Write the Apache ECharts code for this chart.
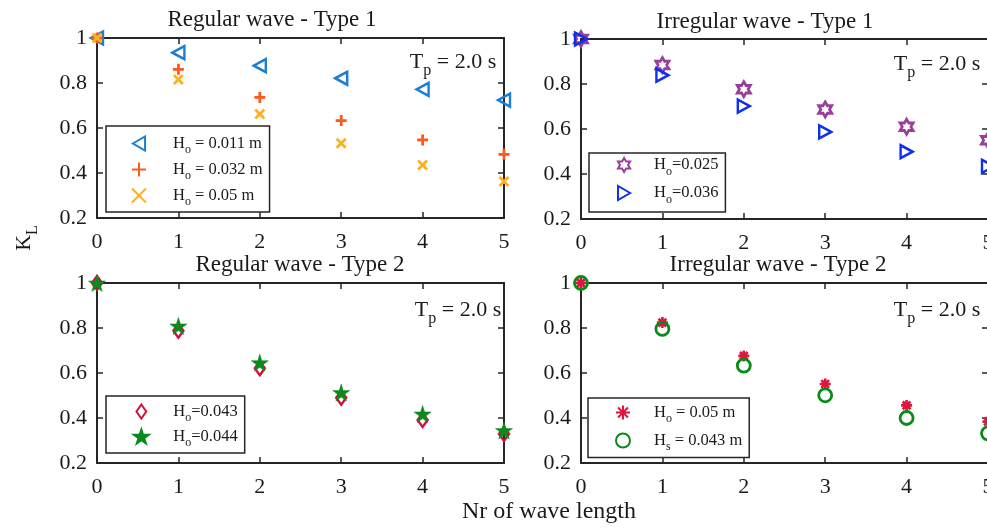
<!DOCTYPE html>
<html><head><meta charset="utf-8">
<script src="https://cdn.jsdelivr.net/npm/echarts@6/dist/echarts.min.js"></script>
<style>html,body{margin:0;padding:0;background:#fff}#c{width:987px;height:528px}</style>
</head><body><div id="c"></div>
<script>
// ---- data ----
const xTicks = [0, 1, 2, 3, 4, 5];
const yTickValues = [0.2, 0.4, 0.6, 0.8, 1];
const panelTitles = ['Regular wave - Type 1', 'Irregular wave - Type 1', 'Regular wave - Type 2', 'Irregular wave - Type 2'];
// Regular wave - Type 1
const reg1_H011 = [1.0, 0.935, 0.877, 0.821, 0.772, 0.724];
const reg1_H032 = [1.0, 0.861, 0.736, 0.633, 0.547, 0.483];
const reg1_H050 = [1.0, 0.816, 0.662, 0.532, 0.436, 0.362];
// Irregular wave - Type 1
const irr1_H025 = [1.0, 0.884, 0.777, 0.687, 0.610, 0.550];
const irr1_H036 = [1.0, 0.839, 0.702, 0.587, 0.499, 0.434];
// Regular wave - Type 2
const reg2_H043 = [1.0, 0.788, 0.621, 0.490, 0.391, 0.329];
const reg2_H044 = [1.0, 0.809, 0.646, 0.513, 0.418, 0.344];
// Irregular wave - Type 2
const irr2_H050 = [1.0, 0.824, 0.676, 0.551, 0.456, 0.384];
const irr2_Hs043 = [1.0, 0.796, 0.633, 0.501, 0.400, 0.332];

const legendLabels = {
  r1a: '{n|H}{s|o}{n| = 0.011 m}',
  r1b: '{n|H}{s|o}{n| = 0.032 m}',
  r1c: '{n|H}{s|o}{n| = 0.05 m}',
  i1a: '{n|H}{s|o}{n|=0.025}',
  i1b: '{n|H}{s|o}{n|=0.036}',
  r2a: '{n|H}{s|o}{n|=0.043}',
  r2b: '{n|H}{s|o}{n|=0.044}',
  i2a: '{n|H}{s|o}{n| = 0.05 m}',
  i2b: '{n|H}{s|s}{n| = 0.043 m}'
};

// ---- style ----
const FONT = 'Liberation Serif';
const INK = '#262626';
const TXT = '#1a1a1a';
const PLUS = 'path://M-1,0L1,0M0,-1L0,1';
const CROSS = 'path://M-1,-1L1,1M-1,1L1,-1';
const TRI_L = 'path://M-1,0L0.732,-1L0.732,1Z';
const TRI_R = 'path://M1,0L-0.732,-1L-0.732,1Z';
const DIAM = 'path://M0,-1L0.7,0L0,1L-0.7,0Z';
const HEXA = 'path://M0,-1L0.289,-0.5L0.866,-0.5L0.577,0L0.866,0.5L0.289,0.5L0,1L-0.289,0.5L-0.866,0.5L-0.577,0L-0.866,-0.5L-0.289,-0.5Z';
const PENTA = 'path://M0,-1L0.2245,-0.309L0.951,-0.309L0.363,0.118L0.588,0.809L0,0.382L-0.588,0.809L-0.363,0.118L-0.951,-0.309L-0.2245,-0.309Z';
const ASTER = 'path://M0,-1L0,1M-1,0L1,0M-0.707,-0.707L0.707,0.707M-0.707,0.707L0.707,-0.707';

const grids = [
  {left: 97, top: 38, width: 407, height: 180},
  {left: 581, top: 39, width: 407, height: 180},
  {left: 97, top: 283, width: 407, height: 180},
  {left: 581, top: 283, width: 407, height: 180}
].map(g => Object.assign(g, {outerBoundsMode: 'none', containLabel: false}));

const richLegend = {
  n: {fontFamily: FONT, fontSize: 16.5, color: TXT, lineHeight: 22},
  s: {fontFamily: FONT, fontSize: 12, color: TXT, padding: [13, 0, 0, 0]}
};
const richBig = {
  n: {fontFamily: FONT, fontSize: 22, color: TXT, lineHeight: 26},
  s: {fontFamily: FONT, fontSize: 16, color: TXT, padding: [17, 0, 0, 0]}
};

const xAxes = [], yAxes = [];
grids.forEach((g, i) => {
  ['bottom', 'top'].forEach(pos => xAxes.push({
    type: 'value', gridIndex: i, position: pos, min: 0, max: 5, interval: 1,
    axisLine: {show: true, onZero: false, lineStyle: {color: INK, width: 2}},
    axisTick: {show: true, inside: true, length: 6, lineStyle: {color: INK, width: 1.5}},
    axisLabel: {show: pos === 'bottom', fontFamily: FONT, fontSize: 22, color: TXT, margin: 13,
      formatter: v => String(xTicks[Math.round(v)])},
    splitLine: {show: false}
  }));
  ['left', 'right'].forEach(pos => yAxes.push({
    type: 'value', gridIndex: i, position: pos, min: yTickValues[0], max: yTickValues[yTickValues.length - 1], interval: 0.2,
    axisLine: {show: true, onZero: false, lineStyle: {color: INK, width: 2}},
    axisTick: {show: true, inside: true, length: 6, lineStyle: {color: INK, width: 1.5}},
    axisLabel: {show: pos === 'left', fontFamily: FONT, fontSize: 22, color: TXT, margin: 10,
      formatter: v => String(+v.toFixed(1))},
    splitLine: {show: false}
  }));
});

function sc(name, gi, vals, symbol, size, fill, stroke, bw) {
  return {
    type: 'scatter', name, xAxisIndex: 2 * gi, yAxisIndex: 2 * gi,
    data: vals.map((v, k) => [xTicks[k], v]),
    symbol, symbolSize: size, clip: false,
    itemStyle: {color: fill, borderColor: stroke, borderWidth: bw, opacity: 1},
    emphasis: {disabled: true}, silent: true
  };
}
const NONE = 'rgba(255,255,255,0)';
const series = [
  sc('r1a', 0, reg1_H011, TRI_L, [12, 13], NONE, '#1a7fd4', 2.5),
  sc('r1b', 0, reg1_H032, PLUS, 11, NONE, '#ff5a1e', 2.8),
  sc('r1c', 0, reg1_H050, CROSS, 9, NONE, '#ffb020', 2.8),
  sc('i1a', 1, irr1_H025, HEXA, [13, 15], NONE, '#9b3d9b', 2.8),
  sc('i1b', 1, irr1_H036, TRI_R, [12, 13], NONE, '#1030f0', 2.5),
  sc('r2a', 2, reg2_H043, DIAM, [10, 14], NONE, '#d0103a', 2.5),
  sc('r2b', 2, reg2_H044, PENTA, 17, '#0a8a1a', '#0a8a1a', 0.5),
  sc('i2a', 3, irr2_H050, ASTER, 11, NONE, '#e0143c', 2.6),
  sc('i2b', 3, irr2_Hs043, 'circle', 13, NONE, '#0a8a1a', 2.8)
];

function lg(left, top, names, itemWidth, padding, gap) {
  return {
    left, top, orient: 'vertical', align: 'left', data: names, selectedMode: false,
    itemWidth, itemHeight: 14, itemGap: gap, padding,
    backgroundColor: '#fff', borderColor: INK, borderWidth: 1.5,
    formatter: n => legendLabels[n],
    textStyle: {fontFamily: FONT, fontSize: 16.5, color: TXT, rich: richLegend}
  };
}
const legends = [
  lg(106, 126, ['r1a', 'r1b', 'r1c'], 58, [9, 7, 4, 25], 5),
  lg(589, 153, ['i1a', 'i1b'], 50, [3.5, 7, 6.5, 28], 7),
  lg(106, 396, ['r2a', 'r2b'], 54, [7, 7, 4, 27], 4),
  lg(588, 398, ['i2a', 'i2b'], 52, [6, 7, 4.5, 27], 7)
];

const textEl = (x, y, text, size, rich, extra) => Object.assign({
  type: 'text', x, y, z: 100,
  style: {text, fontFamily: FONT, fontSize: size, fill: TXT, align: 'center', verticalAlign: 'middle', rich}
}, extra || {});

const graphics = [
  textEl(272, 20, panelTitles[0], 23),
  textEl(765, 22, panelTitles[1], 23),
  textEl(300, 265, panelTitles[2], 23),
  textEl(778, 265, panelTitles[3], 23),
  textEl(453, 62, '{n|T}{s|p}{n| = 2.0 s}', 22, richBig),
  textEl(937, 64, '{n|T}{s|p}{n| = 2.0 s}', 22, richBig),
  textEl(458, 310, '{n|T}{s|p}{n| = 2.0 s}', 22, richBig),
  textEl(937, 310, '{n|T}{s|p}{n| = 2.0 s}', 22, richBig),
  textEl(24, 238, '{n|K}{s|L}', 22, richBig, {rotation: Math.PI / 2}),
  textEl(549, 512, 'Nr of wave length', 24)
];

const chart = echarts.init(document.getElementById('c'), null, {renderer: 'canvas'});
chart.setOption({
  animation: false,
  backgroundColor: '#fff',
  grid: grids,
  xAxis: xAxes,
  yAxis: yAxes,
  legend: legends,
  series,
  graphic: graphics
});
</script></body></html>
